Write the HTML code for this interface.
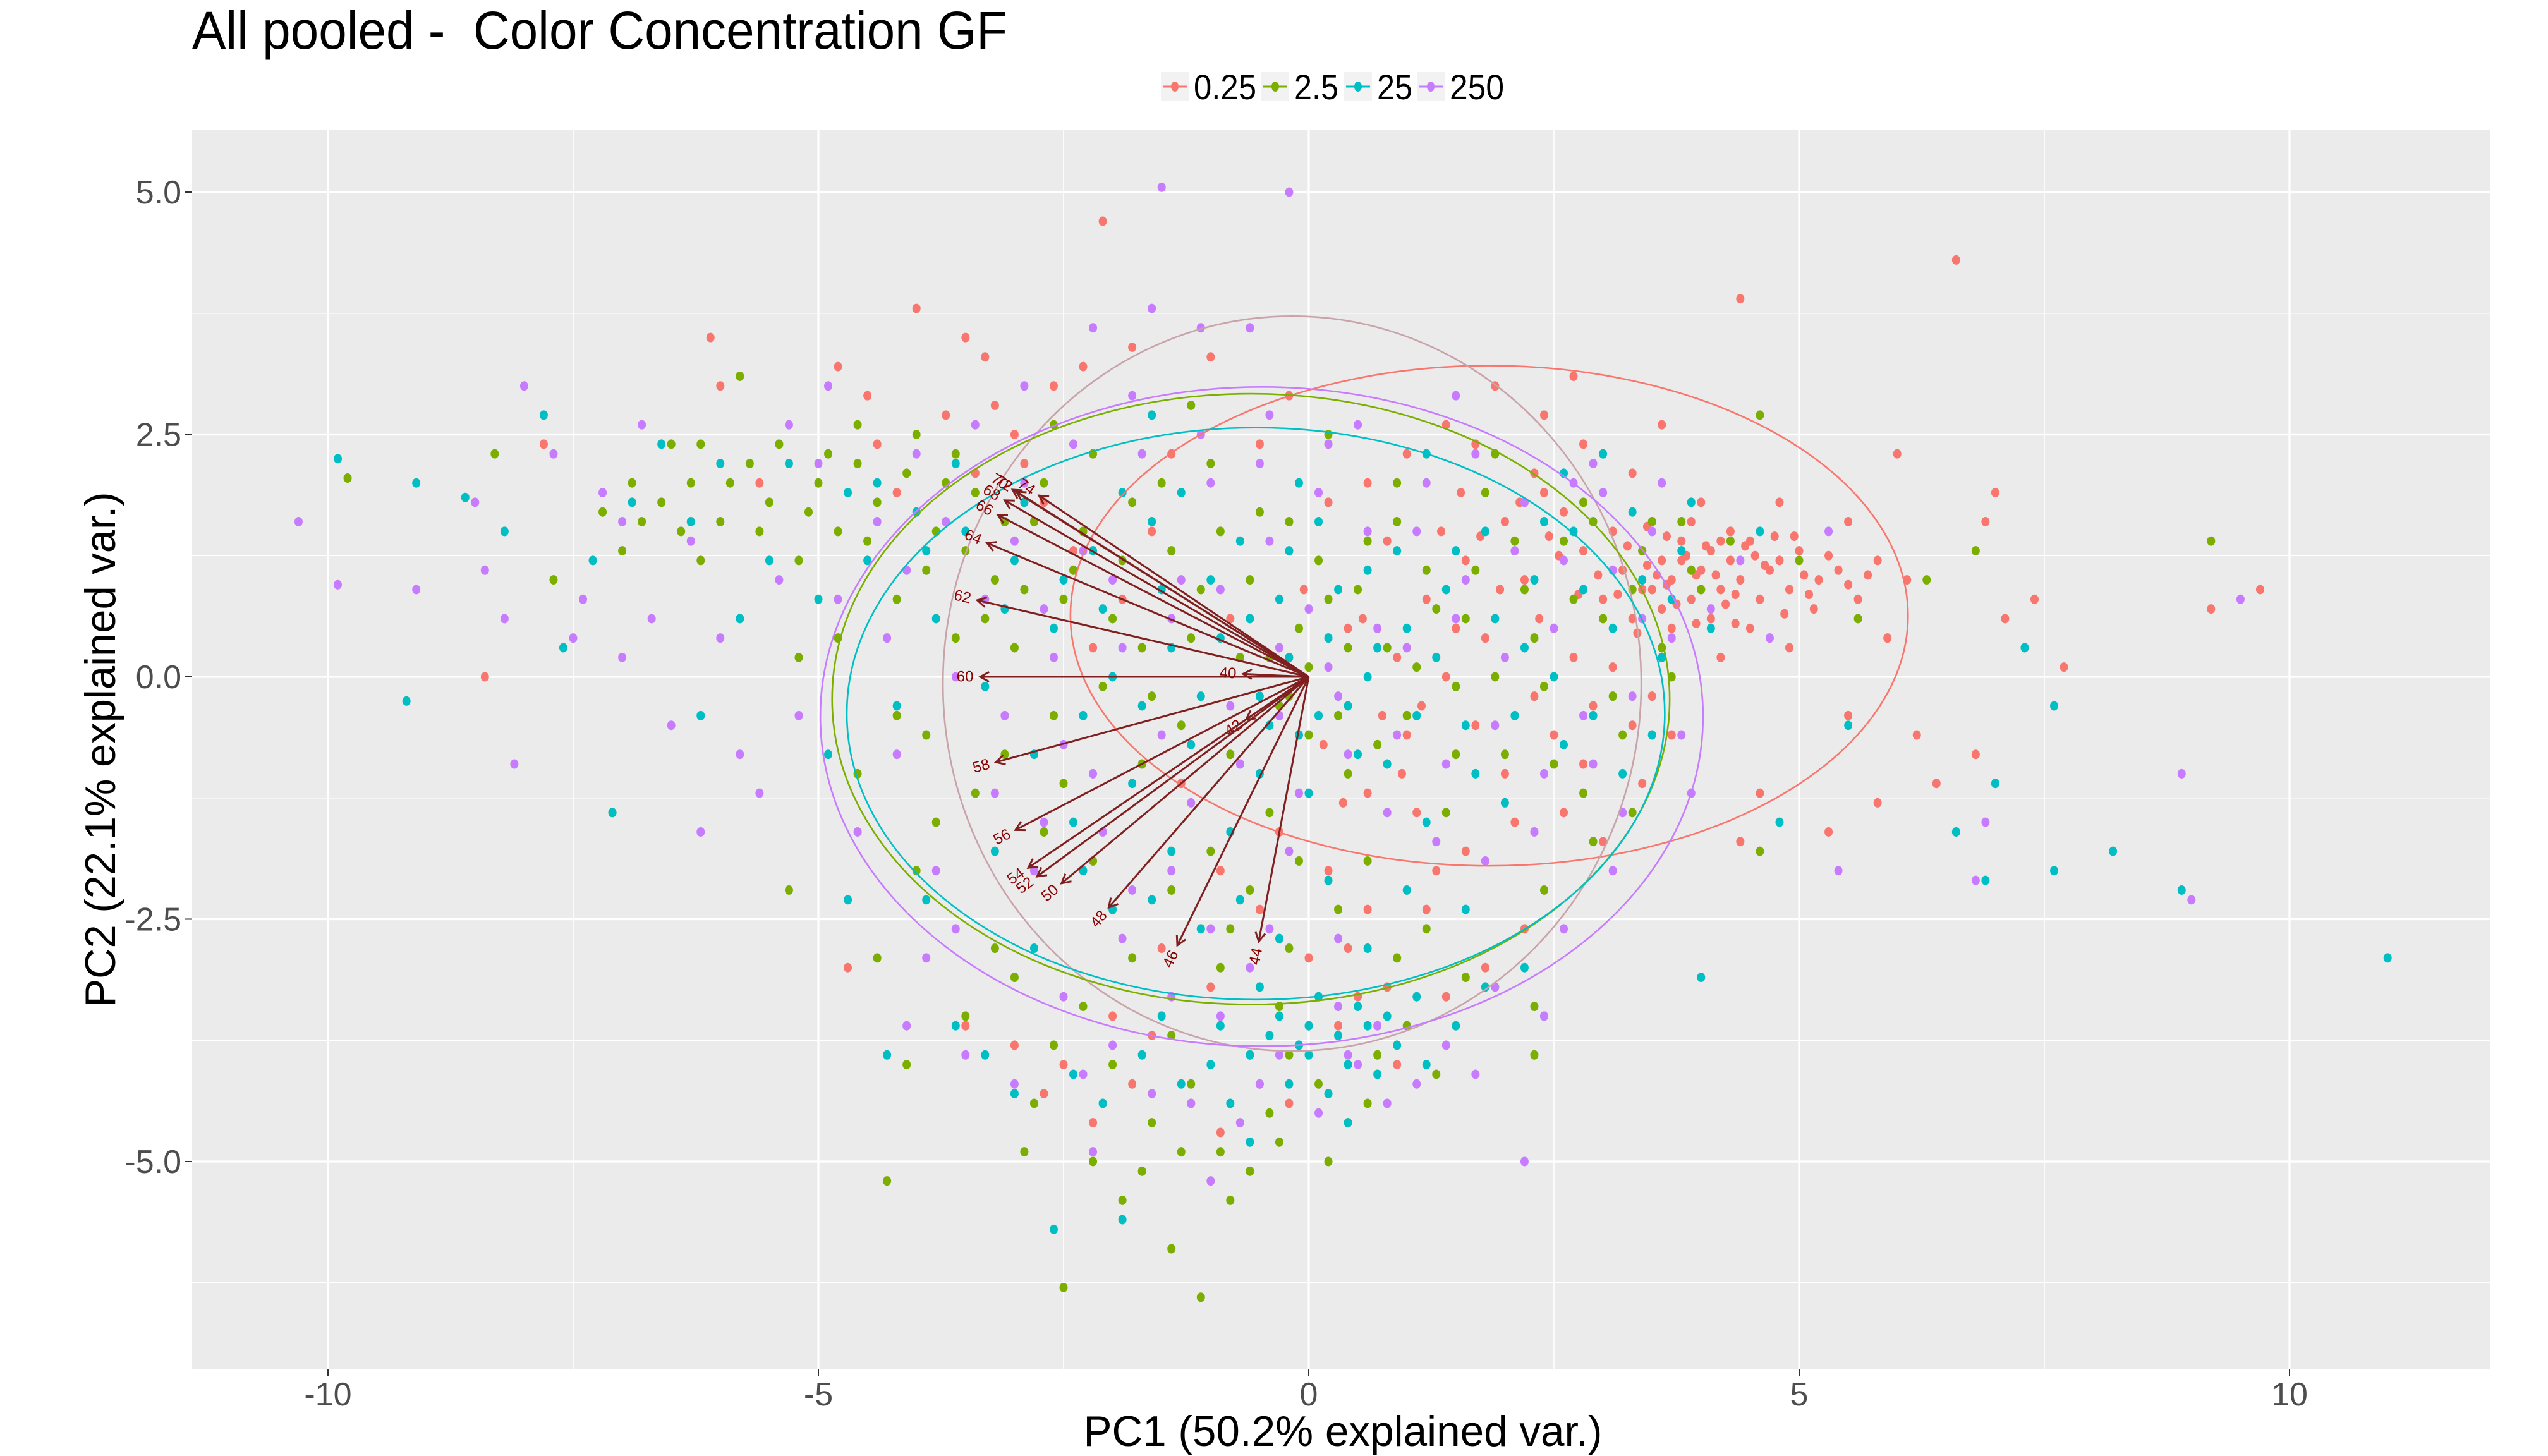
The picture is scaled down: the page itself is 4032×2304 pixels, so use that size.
<!DOCTYPE html>
<html><head><meta charset="utf-8"><title>All pooled PCA biplot</title>
<style>
html,body{margin:0;padding:0;background:#fff;}
svg{display:block;font-family:"Liberation Sans",Arial,sans-serif;}
</style></head>
<body>
<svg id="chart" width="4032" height="2304" viewBox="0 0 4032 2304" xmlns="http://www.w3.org/2000/svg">
  <rect x="0" y="0" width="4032" height="2304" fill="#ffffff"/>
  <rect x="304" y="206" width="3637" height="1960" fill="#EBEBEB"/>
  <g id="grid"></g>
  <g id="points"></g>
  <g id="ellipses"></g>
  <g id="arrows"></g>
  <g id="axes"></g>
  <text x="304" y="77" font-size="84" fill="#000" textLength="1290" lengthAdjust="spacingAndGlyphs" xml:space="preserve">All pooled -  Color Concentration GF</text>
  <text x="2125" y="2288" font-size="68" fill="#000" text-anchor="middle" textLength="821" lengthAdjust="spacingAndGlyphs">PC1 (50.2% explained var.)</text>
  <text transform="translate(182,1186) rotate(-90)" font-size="68" fill="#000" text-anchor="middle" textLength="815" lengthAdjust="spacingAndGlyphs">PC2 (22.1% explained var.)</text>
  <g id="legend"></g>
</svg>
<script>
// ---- data ----
const xTicks = [-10, -5, 0, 5, 10];
const xTickLabels = ["-10", "-5", "0", "5", "10"];
const xMinor = [-7.5, -2.5, 2.5, 7.5];
const yTicks = [-5, -2.5, 0, 2.5, 5];
const yTickLabels = ["-5.0", "-2.5", "0.0", "2.5", "5.0"];
const yMinor = [-6.25, -3.75, -1.25, 1.25, 3.75];
const groups = ["0.25", "2.5", "25", "250"];
const groupColors = ["#F8766D", "#7CAE00", "#00BFC4", "#C77CFF"];

const pts025 = [3.2,1.1,3.4,1.3,3.5,0.9,3.6,1.2,3.7,1.0,3.8,1.4,3.9,0.8,4.0,1.1,4.1,1.3,4.2,0.9,4.3,1.2,4.4,1.0,4.5,1.4,4.6,0.8,4.7,1.1,4.8,1.2,4.9,0.9,5.0,1.3,5.2,1.0,5.4,1.1,5.6,0.8,5.8,1.2,3.3,0.6,3.5,1.6,3.7,0.5,3.9,1.6,4.1,0.6,4.3,1.5,4.5,0.5,3.6,0.7,3.8,1.2,4.0,0.9,4.2,1.4,3.4,0.9,3.1,1.5,3.0,0.8,2.8,1.3,2.6,1.7,2.5,0.5,2.7,0.2,2.9,-0.3,3.1,0.1,3.3,-0.5,3.5,-0.2,2.4,1.9,2.2,1.0,2.0,1.6,1.8,0.4,1.6,1.2,1.4,0.0,1.2,0.8,1.0,-0.6,0.8,1.4,0.6,-1.2,0.4,0.5,0.2,-2.0,0.4,-2.8,0.8,-3.2,1.2,-2.4,1.6,-1.8,2.0,-1.0,2.2,-2.6,1.8,-3.0,0.9,-4.0,0.3,-3.6,-0.2,-4.4,-0.6,-3.9,-1.0,-3.2,-1.5,-2.8,-2.0,-3.5,-2.5,-4.0,-3.0,-3.8,-3.5,-3.6,-4.7,-3.0,-2.2,-4.6,-1.8,-4.2,-1.2,-4.4,-2.1,4.7,-2.3,3.2,-2.6,3.0,-3.2,2.8,-3.5,3.5,-4.0,3.8,-4.5,2.9,-4.8,3.2,-6.1,3.5,-6.0,3.0,-7.8,2.4,-8.4,0.0,-5.6,2.0,-4.2,1.9,-3.0,2.5,-1.8,3.4,-1.0,3.3,-0.5,2.4,0.2,1.8,0.6,2.0,1.4,2.6,1.9,3.0,2.4,2.7,-0.8,0.6,-1.6,1.5,-2.2,0.3,-2.7,1.8,-3.4,2.1,2.8,2.4,3.6,2.6,4.4,3.9,6.6,4.3,6.0,2.3,7.0,1.9,6.9,1.6,7.4,0.8,7.1,0.6,7.7,0.1,6.2,-0.6,5.5,-0.4,6.8,-0.8,6.4,-1.1,5.8,-1.3,5.3,-1.6,4.6,-1.2,4.4,-1.7,9.2,0.7,9.7,0.9,2.7,3.1,1.1,-1.4,-0.3,-1.6,2.6,-1.4,3.4,-1.1,1.5,0.5,2.3,-0.2,0.9,0.2,3.95,1.05,4.25,0.75,4.55,1.25,3.65,1.45,4.85,0.65,5.1,0.85,3.45,1.15,4.05,1.35,
3.25,1.35,3.55,1.05,3.75,0.75,3.85,1.25,4.15,1.05,4.35,0.85,4.65,1.15,4.75,1.45,5.05,1.05,5.3,1.25,5.5,0.95,5.7,1.05,3.35,0.45,3.45,1.55,3.65,0.95,3.95,0.55,4.35,0.55,4.45,1.35,4.95,1.45,5.15,0.7,3.15,0.85,2.95,1.05,2.75,0.85,2.55,1.25,2.35,0.6,2.45,1.45,2.15,1.8,1.95,0.9,1.75,1.45,1.55,1.9,1.35,1.5,1.15,-0.3,0.95,-1.0,0.75,-0.4,0.55,0.6,0.35,-1.3,0.15,-0.7,-0.05,0.9,1.7,-0.5,2.1,-1.5,2.5,-0.6,2.8,-0.9,3.0,-1.7,1.3,-2.0,0.6,-2.4,0.0,-2.9,-0.5,-2.4,-0.9,-2.0,-1.3,-1.1,-1.9,0.8,-2.4,1.3,-2.9,2.2,-3.7,2.7,-4.4,2.4,-3.3,3.3,-1.4,2.3,-0.2,2.9,1.0,2.3,1.7,2.4,2.3,2.1,3.3,2.1,4.0,1.8,4.8,1.8,5.5,1.6,5.9,0.4,6.1,1.0,4.9,0.3,4.2,0.2,3.7,-0.6,0.5,-3.3,1.4,-3.3,-0.9,-4.7,-1.6,-3.7,-2.7,-4.3];
const pts25a = [-9.8,2.05,-8.3,2.3,-7.7,1.0,-7.0,1.3,-6.9,2.0,-6.6,1.8,-6.4,1.5,-6.2,2.4,-6.0,1.6,-5.9,2.0,-5.7,2.2,-5.5,1.8,-5.4,2.4,-5.8,3.1,-6.5,2.4,-5.2,1.2,-5.0,2.0,-4.8,1.5,-4.6,2.2,-4.4,1.8,-4.2,0.8,-4.0,2.5,-3.8,1.5,-3.6,0.4,-3.4,1.9,-3.2,1.0,-3.0,0.3,-2.8,1.6,-2.6,-0.4,-2.4,1.1,-2.2,2.3,-2.0,0.6,-1.8,1.8,-1.6,-0.2,-1.4,1.3,-1.2,0.4,-1.0,2.2,-0.8,-0.8,-0.6,1.0,-0.4,0.2,-0.2,1.6,0.0,-0.6,0.2,0.8,0.4,-1.0,0.6,1.4,0.8,0.3,1.0,-0.4,1.2,1.1,1.4,-1.4,1.6,0.6,1.8,1.9,2.0,-0.8,2.2,0.9,2.4,-0.1,2.6,1.4,2.8,-1.2,3.0,0.6,3.2,-0.6,3.4,1.3,3.6,0.3,3.8,1.6,4.0,0.9,4.3,1.4,4.6,2.7,4.6,-1.8,5.0,1.2,5.6,0.6,6.3,1.0,6.8,1.3,9.2,1.4,-4.6,-1.0,-5.3,-2.2,-4.4,-2.9,-4.3,-5.2,-4.1,-4.0,-3.5,-3.5,-3.0,-3.1,-2.6,-3.8,-2.5,-6.3,-2.2,-5.0,-1.9,-5.4,-1.6,-4.6,-1.4,-5.9,-1.1,-6.4,-0.9,-4.9,-0.6,-5.1,-0.4,-4.5,-0.2,-3.9,0.1,-4.2,0.4,-4.6,0.7,-3.9,1.0,-3.6,-1.4,-3.7,-1.8,-2.9,-2.3,-3.4,-3.2,-2.8,-0.6,-2.2,-1.0,-1.8,-1.4,-2.2,-0.2,-2.8,0.6,-1.9,1.2,-2.6,1.6,-3.1,2.4,-2.2,2.9,-1.7,2.3,-3.4,-2.5,-1.1,-3.1,-0.8,-3.8,-1.5,-4.2,-0.4,-4.8,0.4,-5.2,0.2,-7.1,-1.4,0.2,2.5,-1.2,2.8,-2.6,2.6,0.9,2.0,1.9,2.3,2.8,1.8,-0.4,-1.4,1.5,-0.1,3.3,-1.4,-3.6,2.3,-4.6,2.6,-6.2,1.2,-7.2,1.7,-1.3,-4.9,-0.8,-5.4,-1.7,-5.1,0.2,-5.0,-0.5,-4.2,2.3,-3.9,
-6.8,1.6,-6.3,2.0,-5.6,1.5,-5.1,1.7,-4.9,2.3,-4.5,1.4,-4.1,2.1,-3.9,1.1,-3.7,2.0,-3.5,1.3,-3.3,0.6,-3.1,1.6,-2.9,0.9,-2.7,2.0,-2.5,0.8,-2.3,1.5,-2.1,-0.1,-1.9,1.2,-1.7,0.3,-1.5,2.0,-1.3,-0.5,-1.1,0.9,-0.9,1.5,-0.7,0.2,-0.5,1.7,-0.3,-0.3,-0.1,0.5,0.1,1.2,0.3,-0.4,0.5,0.9,0.7,-0.7,0.9,1.6,1.1,0.1,1.3,0.7,1.5,-0.8,1.7,1.1,1.9,0.0,2.1,1.4,2.3,0.4,2.5,-0.9,2.7,0.8,2.9,1.6,3.1,-0.2,3.3,0.9,3.5,1.6,3.7,0.0,3.9,1.1,-1.7,-0.9,-2.2,-1.9,-2.7,-1.6,-3.4,-1.2,-3.9,-0.6,-4.0,-2.0,-0.8,-2.6,-0.1,-1.9,0.3,-2.4,0.9,-2.9,-0.3,-3.4,-0.9,-3.0,-1.2,-4.2,-2.0,-4.0,-2.8,-4.4,-0.3,-4.8,0.6,-4.4,1.3,-4.1,-2.9,-4.9,0.0,0.1,-0.2,-0.2,0.4,0.3];
const pts25 = [-9.9,2.25,-9.2,-0.25,-9.1,2.0,-8.6,1.85,-8.2,1.5,-7.8,2.7,-7.6,0.3,-7.3,1.2,-6.9,1.8,-6.6,2.4,-6.3,1.6,-6.0,2.2,-5.8,0.6,-5.5,1.2,-5.3,2.2,-5.0,0.8,-4.7,1.9,-4.5,1.2,-4.2,-0.3,-4.0,1.7,-3.8,0.6,-3.5,1.5,-3.3,-0.1,-3.0,1.2,-2.8,-0.8,-2.6,0.5,-2.4,-1.5,-2.2,1.3,-2.0,0.0,-1.8,-1.1,-1.6,1.6,-1.4,0.3,-1.2,-0.7,-1.0,1.0,-0.8,-1.6,-0.6,0.6,-0.4,-0.5,-0.2,1.3,0.0,-1.2,0.2,0.4,0.4,-0.3,0.6,1.1,0.8,-0.9,1.0,0.5,1.2,-1.5,1.4,0.9,1.6,-0.5,1.8,1.5,2.0,-1.3,2.2,0.3,2.4,1.6,2.6,-0.7,2.8,0.9,3.0,2.3,3.2,-1.0,3.4,1.0,3.6,0.2,3.8,1.3,4.1,0.5,4.6,1.5,4.8,-1.5,5.5,-0.5,6.6,-1.6,7.0,-1.1,7.3,0.3,7.6,-0.3,7.6,-2.0,6.9,-2.1,8.2,-1.8,8.9,-2.2,11.0,-2.9,4.0,-3.1,2.4,-3.5,-7.1,-1.4,-4.7,-2.3,-4.3,-3.9,-3.6,-3.6,-3.0,-4.3,-2.6,-5.7,-2.1,-4.4,-1.7,-3.9,-1.3,-4.2,-0.9,-3.6,-0.6,-4.8,-0.3,-3.5,0.0,-3.9,0.2,-4.3,0.3,-3.7,0.5,-3.4,0.7,-4.1,0.9,-3.8,1.2,-4.0,1.5,-3.6,1.8,-3.2,2.2,-3.0,-1.1,-2.6,-0.3,-2.7,-2.0,-2.4,-1.4,-1.8,-2.8,-2.8,-3.9,-2.3,-0.5,-3.2,0.0,-3.6,0.4,-4.6,-0.8,-4.4,-1.9,-5.6,1.0,-2.2,1.6,-2.4,-6.2,-0.4,-4.9,-0.8,-3.2,-1.8,-1.6,2.7,-0.1,2.0,1.2,2.3,2.6,2.1,0.6,0.0,-0.2,0.2,0.1,-3.3,-0.1,-3.8,0.6,-3.6,-0.6,-3.9,
-4.4,2.0,-3.9,1.3,-3.6,2.2,-3.1,0.7,-2.9,1.8,-2.5,1.0,-2.3,-0.4,-2.1,0.7,-1.9,1.9,-1.7,-0.3,-1.5,0.9,-1.3,1.9,-1.1,-0.2,-0.9,0.4,-0.7,1.4,-0.5,-1.0,-0.3,0.8,-0.1,-0.6,0.1,1.6,0.3,0.9,0.5,-0.8,0.7,0.3,0.9,1.3,1.1,-0.4,1.3,0.2,1.5,1.3,1.7,-1.0,1.9,0.6,2.1,-0.4,2.3,1.0,2.5,0.0,2.7,1.5,2.9,-0.4,3.1,0.5,3.3,1.7,3.5,-0.6,3.7,0.8,3.9,1.8,-1.6,-2.3,-2.3,-2.0,-0.7,-2.3,0.2,-2.1,0.6,-2.8,-0.2,-4.2,0.4,-4.0,0.8,-3.5,-0.4,-3.7,-1.0,-4.0,1.1,-3.3,-1.5,-3.5,-2.4,-4.1,-3.3,-3.9,-0.5,-0.2,0.1,-0.4];
const pts250 = [-10.3,1.6,-9.9,0.95,-9.1,0.9,-8.5,1.8,-8.4,1.1,-8.2,0.6,-8.0,3.0,-7.7,2.3,-7.4,0.8,-7.2,1.9,-7.0,0.2,-6.8,2.6,-6.7,0.6,-6.5,-0.5,-6.3,1.4,-6.2,-1.6,-6.0,0.4,-5.8,-0.8,-5.6,-1.2,-5.4,1.0,-5.2,-0.4,-5.0,2.2,-4.8,0.8,-4.6,-1.6,-4.4,1.6,-4.2,-0.8,-4.0,2.3,-3.8,-2.0,-3.6,0.0,-3.4,2.6,-3.2,-1.2,-3.0,1.4,-2.8,-2.0,-2.6,0.2,-2.4,2.4,-2.2,-1.0,-2.0,1.0,-1.8,-2.2,-1.6,3.8,-1.4,0.6,-1.2,-1.3,-1.0,2.0,-0.8,-0.3,-0.6,3.6,-0.4,1.4,-0.2,-1.8,0.0,0.7,0.2,2.4,0.4,-0.8,0.6,1.5,0.8,-1.4,1.0,0.3,1.2,2.0,1.4,-0.9,1.6,1.0,1.8,-1.9,2.0,0.2,2.2,1.8,2.4,-1.0,2.6,1.2,2.8,-0.4,3.0,1.9,3.2,-1.4,3.4,0.6,3.6,2.0,3.8,-0.6,4.1,0.7,4.4,1.2,4.7,0.4,5.3,1.5,5.4,-2.0,6.8,-2.1,6.9,-1.5,8.9,-1.0,9.0,-2.3,9.5,0.8,-1.5,5.05,-0.2,5.0,-2.2,3.6,-1.1,3.6,-0.9,-3.5,-1.6,-4.3,-1.2,-4.4,-0.7,-4.6,-0.3,-3.9,0.1,-4.5,0.5,-4.0,0.8,-4.4,1.1,-4.2,1.4,-3.8,-2.0,-3.8,-2.5,-3.3,-3.0,-4.2,-3.5,-3.9,-4.1,-3.6,-2.2,-4.9,-1.0,-5.2,2.2,-5.0,2.4,-3.5,1.9,-3.2,-0.4,-2.6,-1.4,-2.0,-2.7,-1.5,-3.6,-2.6,-7.0,1.6,-8.1,-0.9,-7.5,0.4,-5.3,2.6,-4.9,3.0,-2.9,3.0,-0.4,2.7,1.5,2.9,2.9,2.2,-1.8,2.9,2.6,-2.6,3.1,-2.0,-3.9,-2.9,0.3,-3.4,
-4.3,0.4,-4.1,1.1,-3.7,1.6,-3.3,0.8,-3.1,-0.4,-2.9,2.0,-2.7,0.7,-2.5,-0.7,-2.3,1.3,-2.1,-1.6,-1.9,0.3,-1.7,2.3,-1.5,-0.6,-1.3,1.0,-1.1,2.5,-0.9,0.9,-0.7,-0.9,-0.5,2.2,-0.3,0.3,-0.1,-1.2,0.1,1.9,0.3,-0.2,0.5,2.6,0.7,0.5,0.9,-0.6,1.1,1.5,1.3,-1.7,1.5,0.6,1.7,2.3,1.9,-0.5,2.1,1.3,2.3,-1.6,2.5,0.5,2.7,2.0,2.9,-0.9,3.1,1.1,3.3,-0.2,3.5,1.5,3.7,0.4,3.9,-1.2,-1.0,-2.6,-1.9,-2.7,-0.6,-3.0,0.3,-2.7,0.7,-3.6,-0.5,-4.2,-1.4,-3.3,-2.3,-4.1,0.4,-3.9,1.7,-4.1,-0.3,-0.4,0.2,0.1];
const groupPoints = [pts025, pts25a, pts25, pts250];

// ellipses: centre x, centre y, radius x, radius y (data units)
const ellCx = [1.84, -0.17, -0.59, -0.54, -0.48];
const ellCy = [0.63, -0.07, -0.23, -0.38, -0.41];
const ellRx = [4.27, 3.56, 4.27, 4.17, 4.50];
const ellRy = [2.58, 3.79, 3.15, 2.95, 3.40];
const ellColors = ["#F8766D", "#C9A3AA", "#7CAE00", "#00BFC4", "#C77CFF"];

// loading arrows: variable names and tip coordinates
const arrowNames = ["74","72","70","68","66","64","62","60","40","42","58","56","54","52","50","48","46","44"];
const arrowX = [-2.75,-2.98,-3.02,-3.10,-3.17,-3.28,-3.38,-3.35,-0.67,-0.64,-3.19,-2.99,-2.86,-2.77,-2.52,-2.04,-1.34,-0.51];
const arrowY = [1.87,1.91,1.93,1.82,1.67,1.38,0.79,0.00,0.03,-0.44,-0.88,-1.58,-1.97,-2.06,-2.13,-2.38,-2.77,-2.73];

// ---- scales ----
const X0 = 2071, XS = 155.2, Y0 = 1071, YS = 153.4;
const PL = 304, PR = 3941, PT = 206, PB = 2166;
function sx(v){ return X0 + XS * v; }
function sy(v){ return Y0 - YS * v; }
const NS = "http://www.w3.org/2000/svg";
function mk(tag, attrs, parent){
  const e = document.createElementNS(NS, tag);
  for (const k in attrs) e.setAttribute(k, attrs[k]);
  parent.appendChild(e);
  return e;
}

// grid
const grid = document.getElementById('grid');
xMinor.forEach(v => { const l = mk('line', {x1:sx(v), x2:sx(v), y1:PT, y2:PB, stroke:'#fff', 'stroke-width':1.6}, grid);
  
   });
yMinor.forEach(v => { const l = mk('line', {x1:PL, x2:PR, y1:sy(v), y2:sy(v), stroke:'#fff', 'stroke-width':1.6}, grid);
  
   });
xTicks.forEach(v => { const l = mk('line', {x1:sx(v), x2:sx(v), y1:PT, y2:PB, stroke:'#fff', 'stroke-width':3.2}, grid);
  
   });
yTicks.forEach(v => { const l = mk('line', {x1:PL, x2:PR, y1:sy(v), y2:sy(v), stroke:'#fff', 'stroke-width':3.2}, grid);
  
   });

// points
const pg = document.getElementById('points');
groupPoints.forEach((arr, gi) => {
  for (let i = 0; i + 1 < arr.length; i += 2) {
    const c = mk('ellipse', {cx:sx(arr[i]), cy:sy(arr[i+1]), rx:6.5, ry:7.5, fill:groupColors[gi]}, pg);
    
    
  }
});

// ellipses
const eg = document.getElementById('ellipses');
ellCx.forEach((cx, i) => {
  const e = mk('ellipse', {cx:sx(cx), cy:sy(ellCy[i]), rx:ellRx[i]*XS, ry:ellRy[i]*YS, fill:'none', stroke:ellColors[i], 'stroke-width':2.6}, eg);
  
  
});

// arrows
const ag = document.getElementById('arrows');
const AC = '#7F1F1F';
arrowNames.forEach((nm, i) => {
  const x1 = sx(0), y1 = sy(0), x2 = sx(arrowX[i]), y2 = sy(arrowY[i]);
  const ang = Math.atan2(y2 - y1, x2 - x1);
  const a = mk('line', {x1:x1, y1:y1, x2:x2, y2:y2, stroke:AC, 'stroke-width':3}, ag);
  
  
  const hl = 16, ha = 0.5;
  const h = mk('path', {d:'M' + (x2 - hl*Math.cos(ang-ha)) + ',' + (y2 - hl*Math.sin(ang-ha)) + 'L' + x2 + ',' + y2 + 'L' + (x2 - hl*Math.cos(ang+ha)) + ',' + (y2 - hl*Math.sin(ang+ha)), fill:'none', stroke:AC, 'stroke-width':3}, ag);
  
  
  const lx = x2 + 24*Math.cos(ang), ly = y2 + 24*Math.sin(ang);
  let deg = ang * 180 / Math.PI;
  if (deg > 90) deg -= 180; if (deg < -90) deg += 180;
  const t = mk('text', {x:lx, y:ly, 'font-size':24, fill:'#8B0000', 'text-anchor':'middle', 'dominant-baseline':'central', transform:'rotate(' + deg + ',' + lx + ',' + ly + ')'}, ag);
  t.textContent = nm;
  
  
});

// axes ticks and labels
const ax = document.getElementById('axes');
xTicks.forEach((v, i) => {
  const tk = mk('line', {x1:sx(v), x2:sx(v), y1:PB, y2:PB+12, stroke:'#333', 'stroke-width':2}, ax);
  
  
  const t = mk('text', {x:sx(v), y:2224, 'font-size':52, fill:'#4D4D4D', 'text-anchor':'middle'}, ax);
  t.textContent = xTickLabels[i];
  
  
});
yTicks.forEach((v, i) => {
  const tk = mk('line', {x1:PL-12, x2:PL, y1:sy(v), y2:sy(v), stroke:'#333', 'stroke-width':2}, ax);
  
  
  const t = mk('text', {x:287, y:sy(v)+18, 'font-size':52, fill:'#4D4D4D', 'text-anchor':'end'}, ax);
  t.textContent = yTickLabels[i];
  
  
});

// legend
const lg = document.getElementById('legend');
const keyX = [1837, 1996, 2127, 2242];
const txtW = [99, 70, 56, 86];
groups.forEach((g, i) => {
  const k = mk('rect', {x:keyX[i], y:114, width:44, height:46, fill:'#F2F2F2'}, lg);
  
  
  const ln = mk('line', {x1:keyX[i]+3, x2:keyX[i]+41, y1:137, y2:137, stroke:groupColors[i], 'stroke-width':3}, lg);
  
  
  const d = mk('ellipse', {cx:keyX[i]+22, cy:137, rx:6, ry:8, fill:groupColors[i]}, lg);
  
  
  const t = mk('text', {x:keyX[i]+52, y:157, 'font-size':56, fill:'#000', textLength:txtW[i], lengthAdjust:'spacingAndGlyphs'}, lg);
  t.textContent = g;
  
  
});
</script>
</body></html>
